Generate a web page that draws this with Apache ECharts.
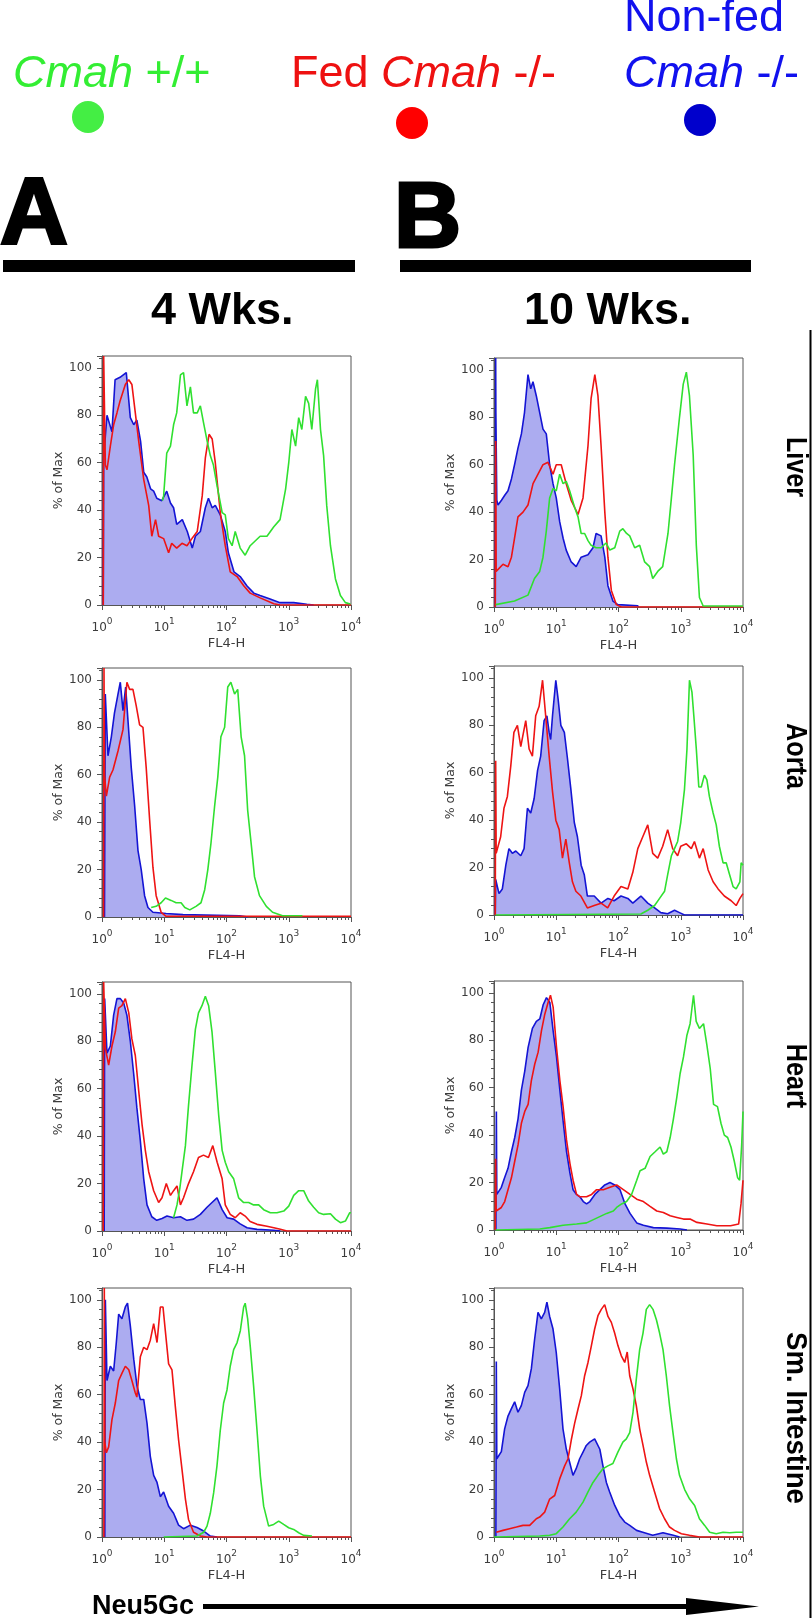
<!DOCTYPE html>
<html><head><meta charset="utf-8">
<script src="https://cdn.jsdelivr.net/npm/echarts@6/dist/echarts.min.js"></script>
<style>html,body{margin:0;padding:0;background:#fff}#c{width:812px;height:1618px}</style>
</head><body><div id="c"></div><script>
// ---------- labels ----------
const tissues = ['Liver', 'Aorta', 'Heart', 'Sm. Intestine'];
const ages = ['4 Wks.', '10 Wks.'];
const panelLetters = ['A', 'B'];
const yTickLabels = [0, 20, 40, 60, 80, 100];
const xDecadeExponents = [0, 1, 2, 3, 4];
const minorTickValues = [2,3,4,5,6,7,8,9,20,30,40,50,60,70,80,90,200,300,400,500,600,700,800,900,2000,3000,4000,5000,6000,7000,8000,9000];

// ---------- data: [log10(FL4-H), % of Max] ----------
// Liver, 4 Wks.
const liver4Non = [[0.02,0],[0.027,62],[0.08,80],[0.16,73],[0.21,95],[0.29,96],[0.39,98],[0.455,79],[0.51,76],[0.56,78],[0.62,69],[0.67,56],[0.72,54],[0.78,49],[0.83,48],[0.88,45],[0.96,44],[1.04,48],[1.10,43],[1.15,41],[1.20,34],[1.29,36],[1.37,31],[1.45,24],[1.50,29],[1.58,31],[1.66,41],[1.71,45],[1.77,41],[1.82,42],[1.90,38],[1.98,31],[2.03,22],[2.12,14],[2.22,12],[2.33,8],[2.44,5],[2.54,4],[2.70,2.5],[2.86,1],[3.08,1],[3.29,0.3],[3.40,0]];
const liver4Fed = [[0.02,0],[0.027,105],[0.054,59],[0.08,57],[0.134,67],[0.187,76],[0.24,81],[0.29,86],[0.375,93],[0.43,95],[0.48,93],[0.535,81],[0.59,69],[0.67,53],[0.75,42],[0.80,29],[0.86,36],[0.91,29],[0.99,28],[1.07,22],[1.12,26],[1.20,24],[1.285,26],[1.365,25],[1.445,28],[1.53,31],[1.61,46],[1.66,62],[1.72,72],[1.77,70],[1.82,60],[1.90,39],[1.98,25],[2.06,14],[2.17,12],[2.28,8],[2.38,5],[2.54,3],[2.76,0.5],[2.86,0],[4.0,0]];
const liver4Wt = [[0.97,44],[0.99,46],[1.04,64],[1.10,67],[1.15,76],[1.20,81],[1.26,97],[1.31,98],[1.365,84],[1.42,92],[1.47,81],[1.53,81],[1.58,84],[1.63,77],[1.69,69],[1.74,63],[1.79,59],[1.85,50],[1.93,39],[1.98,38],[2.03,28],[2.09,25],[2.14,31],[2.22,24],[2.30,21],[2.38,25],[2.46,27],[2.54,29],[2.65,29],[2.76,33],[2.86,36],[2.95,49],[3.0,60],[3.05,74],[3.11,67],[3.16,79],[3.21,74],[3.27,88],[3.32,85],[3.37,74],[3.43,91],[3.46,95],[3.51,74],[3.56,63],[3.61,42],[3.67,25],[3.75,11],[3.83,4],[3.91,1],[3.99,0.4]];
// Liver, 10 Wks.
const liver10Non = [[0.02,0],[0.027,105],[0.03,82],[0.045,45],[0.064,43],[0.12,45],[0.17,47],[0.225,49],[0.28,54],[0.33,60],[0.385,67],[0.44,73],[0.49,82],[0.546,98],[0.59,92],[0.626,95],[0.68,89],[0.734,82],[0.787,75],[0.84,73],[0.894,60],[0.948,52],[1.0,46],[1.055,36],[1.11,29],[1.16,24],[1.24,19],[1.32,17],[1.40,21],[1.51,22],[1.59,25],[1.64,31],[1.72,30],[1.78,21],[1.83,9],[1.91,2.5],[1.99,1],[2.31,0.5],[2.32,0]];
const liver10Fed = [[0.02,0],[0.027,70],[0.035,15],[0.064,15],[0.145,18],[0.225,17],[0.28,21],[0.33,29],[0.385,38],[0.466,40],[0.546,43],[0.627,52],[0.707,56],[0.787,60],[0.867,61],[0.948,56],[1.0,60],[1.08,60],[1.16,52],[1.24,45],[1.35,39],[1.43,46],[1.51,68],[1.56,88],[1.62,98],[1.67,89],[1.72,68],[1.78,40],[1.83,21],[1.885,7],[1.965,1],[2.045,0],[4.0,0]];
const liver10Wt = [[0.027,1],[0.33,2.5],[0.546,5],[0.65,12],[0.734,15],[0.787,21],[0.84,32],[0.894,46],[0.948,50],[1.0,49],[1.055,56],[1.11,52],[1.16,53],[1.215,49],[1.296,42],[1.35,38],[1.40,31],[1.456,31],[1.51,28],[1.56,26],[1.64,25],[1.72,25],[1.80,27],[1.86,24],[1.94,25],[2.02,32],[2.07,33],[2.13,31],[2.18,30],[2.26,25],[2.34,26],[2.42,19],[2.50,17],[2.55,12],[2.63,15],[2.71,17],[2.795,31],[2.85,46],[2.90,60],[2.98,80],[3.04,94],[3.09,99],[3.14,89],[3.20,64],[3.25,26],[3.30,4],[3.36,0.4],[4.0,0.4]];
// Aorta, 4 Wks.
const aorta4Non = [[0.04,0],[0.053,94],[0.096,68],[0.15,76],[0.20,86],[0.257,94],[0.294,99],[0.337,87],[0.38,97],[0.417,83],[0.47,63],[0.524,47],[0.578,28],[0.63,20],[0.684,9],[0.738,4],[0.818,2],[1.03,1.5],[1.30,1],[2.21,0.5],[2.34,0]];
const aorta4Fed = [[0.025,0],[0.032,105],[0.04,60],[0.07,51],[0.123,59],[0.176,62],[0.257,70],[0.337,79],[0.40,99],[0.444,96],[0.497,96],[0.55,89],[0.604,81],[0.658,80],[0.71,63],[0.765,41],[0.818,21],[0.87,9],[0.95,2],[1.03,0.3],[4.0,0.3]];
const aorta4Wt = [[0.79,4],[0.87,4.5],[0.95,6],[1.02,8],[1.11,7],[1.19,6],[1.27,6],[1.33,4],[1.41,3],[1.51,4.5],[1.59,6],[1.65,11.5],[1.70,20],[1.75,31],[1.81,47],[1.86,59],[1.91,76],[1.97,80],[2.02,97],[2.07,99],[2.13,94],[2.18,96],[2.235,76],[2.29,68],[2.34,45],[2.40,30],[2.45,17],[2.53,9],[2.64,4.5],[2.74,2],[2.90,0.5],[3.22,0.5]];
// Aorta, 10 Wks.
const aorta10Non = [[0.02,0],[0.027,15],[0.08,9],[0.134,11],[0.19,21],[0.24,28],[0.295,26],[0.35,27],[0.43,25],[0.483,28],[0.537,45],[0.59,43],[0.644,49],[0.70,61],[0.75,67],[0.805,82],[0.85,84],[0.886,77],[0.91,74],[0.94,84],[0.993,99],[1.03,91],[1.074,80],[1.13,77],[1.18,66],[1.235,53],[1.29,39],[1.34,33],[1.40,21],[1.45,17],[1.50,8],[1.61,8],[1.72,5],[1.83,7],[1.93,6],[2.04,8],[2.15,7],[2.23,5],[2.36,8],[2.47,5],[2.58,3],[2.68,1],[2.79,0.5],[2.90,2],[2.98,1],[3.06,0],[4.0,0]];
const aorta10Fed = [[0.02,0],[0.027,65],[0.035,26],[0.054,26],[0.107,33],[0.16,45],[0.215,50],[0.27,63],[0.32,77],[0.376,80],[0.43,71],[0.51,82],[0.564,70],[0.617,67],[0.67,84],[0.725,88],[0.78,99],[0.83,84],[0.886,67],[0.94,52],[0.993,40],[1.047,36],[1.10,24],[1.154,32],[1.21,22],[1.26,14],[1.315,10],[1.396,8],[1.50,3],[1.61,4],[1.72,5],[1.826,3],[1.93,8],[2.04,12],[2.15,11],[2.23,18],[2.31,28],[2.39,33],[2.47,38],[2.55,26],[2.63,24],[2.71,29],[2.79,36],[2.87,28],[2.95,25],[3.0,29],[3.09,30],[3.17,28],[3.22,31],[3.30,24],[3.36,28],[3.44,19],[3.52,14],[3.60,11],[3.70,8],[3.81,6],[3.89,4],[3.95,7],[4.0,9]];
const aorta10Wt = [[0.027,0],[2.36,0.4],[2.47,2],[2.58,4],[2.66,7],[2.74,10],[2.79,17],[2.85,25],[2.90,28],[2.95,31],[3.0,39],[3.06,53],[3.10,70],[3.14,99],[3.18,94],[3.21,84],[3.25,70],[3.29,54],[3.33,54],[3.38,59],[3.42,57],[3.46,50],[3.52,43],[3.57,38],[3.62,29],[3.68,22],[3.73,22],[3.785,17],[3.84,12],[3.89,11],[3.95,14],[3.97,22],[4.0,21]];
// Heart, 4 Wks.
const heart4Non = [[0.035,0],[0.043,98],[0.08,75],[0.134,78],[0.187,91],[0.24,98],[0.295,98],[0.35,96],[0.40,91],[0.455,80],[0.51,66],[0.56,52],[0.616,38],[0.67,22],[0.723,11],[0.80,6],[0.88,4.5],[0.964,5.3],[1.044,6.3],[1.15,5.6],[1.26,6],[1.365,4.5],[1.47,5],[1.58,7],[1.687,10],[1.767,12],[1.847,14],[1.93,9],[2.01,5.6],[2.115,5],[2.22,3],[2.33,1.4],[2.49,0.7],[2.76,0.3],[2.865,0]];
const heart4Fed = [[0.02,0],[0.027,105],[0.054,77],[0.107,70],[0.16,78],[0.214,84],[0.268,94],[0.32,95],[0.375,98],[0.43,92],[0.48,81],[0.535,74],[0.59,59],[0.643,45],[0.696,34],[0.75,25],[0.83,17],[0.91,12],[0.964,14],[1.033,20],[1.10,15],[1.15,17],[1.205,19],[1.26,11],[1.31,14],[1.39,20],[1.47,25],[1.55,31],[1.63,32],[1.71,31],[1.78,36],[1.85,29],[1.93,22],[1.98,11],[2.06,7],[2.14,5.6],[2.22,7.7],[2.30,6.3],[2.38,4],[2.49,2.8],[2.65,2],[2.76,1.4],[2.865,0.7],[2.97,0],[4.0,0]];
const heart4Wt = [[1.15,5.6],[1.205,11],[1.25,18],[1.285,25],[1.34,36],[1.39,53],[1.446,70],[1.50,85],[1.55,92],[1.606,95],[1.66,99],[1.713,95],[1.767,84],[1.82,67],[1.874,49],[1.93,34],[1.98,29],[2.035,25],[2.115,22],[2.195,14],[2.276,12],[2.356,12],[2.436,11],[2.517,11],[2.597,9],[2.704,7.7],[2.81,7.7],[2.92,8.4],[3.0,10.5],[3.08,15],[3.16,17],[3.24,17],[3.32,12.6],[3.40,10],[3.48,7.7],[3.56,7],[3.67,7.3],[3.75,5],[3.83,3.5],[3.91,4.2],[3.98,7.7],[4.0,7.7]];
// Heart, 10 Wks.
const heart10Non = [[0.03,0],[0.038,50],[0.045,15],[0.064,15],[0.118,18],[0.17,22],[0.225,26],[0.28,33],[0.333,39],[0.387,47],[0.44,59],[0.494,67],[0.548,77],[0.617,85],[0.68,88],[0.736,89],[0.79,95],[0.843,98],[0.897,96],[0.95,84],[1.004,73],[1.058,59],[1.11,46],[1.165,33],[1.22,24],[1.27,17],[1.326,15],[1.38,14],[1.434,12],[1.487,11],[1.54,12],[1.62,15],[1.70,17],[1.78,19],[1.863,20],[1.94,19],[2.024,17],[2.105,11],[2.185,7],[2.293,3],[2.40,2],[2.56,1],[2.776,0.8],[2.99,0.4],[3.10,0]];
const heart10Fed = [[0.02,0],[0.027,30],[0.035,8],[0.064,8],[0.118,9.5],[0.172,12],[0.225,17],[0.28,22],[0.333,29],[0.387,36],[0.44,45],[0.494,50],[0.548,53],[0.60,63],[0.655,70],[0.709,75],[0.762,84],[0.816,91],[0.87,96],[0.907,99],[0.95,94],[1.004,77],[1.058,63],[1.11,52],[1.165,38],[1.22,28],[1.27,21],[1.326,15],[1.38,14],[1.487,14],[1.568,15],[1.648,17],[1.756,17],[1.863,18],[1.97,19],[2.078,17],[2.185,15],[2.293,13],[2.40,12],[2.507,10],[2.615,8],[2.72,7.4],[2.83,6],[2.937,5.3],[3.044,4.6],[3.15,4.6],[3.26,3.2],[3.42,2.5],[3.58,1.8],[3.80,1.8],[3.93,2.5],[3.968,11],[4.0,21]];
const heart10Wt = [[0.027,0],[0.736,0.4],[0.897,1],[1.11,2],[1.326,2.5],[1.487,3],[1.648,5],[1.81,7],[1.917,8],[1.97,9.5],[2.05,11],[2.13,12],[2.21,15],[2.293,21],[2.346,25],[2.427,26],[2.507,31],[2.588,33],[2.668,35],[2.72,32],[2.776,33],[2.83,39],[2.883,47],[2.937,56],[2.99,66],[3.044,73],[3.098,82],[3.15,87],[3.205,99],[3.248,88],[3.30,85],[3.366,87],[3.42,78],[3.474,68],[3.527,53],[3.59,52],[3.646,45],[3.70,40],[3.753,39],[3.807,35],[3.86,29],[3.914,22],[3.946,21],[3.979,36],[4.0,50]];
// Sm. Intestine, 4 Wks.
const intestine4Non = [[0.045,0],[0.054,100],[0.08,66],[0.134,72],[0.187,70],[0.23,82],[0.268,94],[0.32,92],[0.375,97],[0.41,98.6],[0.455,89],[0.51,75],[0.56,64],[0.616,58],[0.67,58],[0.723,48],[0.776,34],[0.83,26],[0.884,23],[0.937,17],[0.99,19],[1.07,13],[1.15,10],[1.23,5],[1.31,3.5],[1.42,5],[1.526,4],[1.633,2.5],[1.74,0.4],[1.847,0]];
const intestine4Fed = [[0.03,0],[0.037,105],[0.045,40],[0.07,35.5],[0.107,38],[0.16,49.5],[0.214,56.5],[0.268,66],[0.32,69],[0.375,72],[0.43,70.5],[0.48,66],[0.535,60.7],[0.56,59],[0.616,76],[0.67,80],[0.723,79],[0.776,83],[0.83,90],[0.884,82],[0.937,97],[0.98,97],[1.017,87],[1.07,73],[1.124,70.5],[1.178,55],[1.23,41],[1.285,28.5],[1.34,16],[1.39,7.4],[1.47,2],[1.58,0.4],[1.687,0],[4.0,0]];
const intestine4Wt = [[0.99,0],[1.526,0.4],[1.633,2],[1.687,4.6],[1.74,10],[1.794,18.7],[1.847,30],[1.90,45],[1.954,56.5],[2.008,62],[2.06,72],[2.115,79],[2.17,82],[2.222,87],[2.276,97],[2.30,98.6],[2.34,92],[2.383,80],[2.436,63.5],[2.49,45],[2.544,25.7],[2.597,13],[2.677,4.6],[2.758,5.3],[2.838,6.7],[2.918,5.3],[2.999,3.9],[3.079,3.2],[3.16,1.8],[3.24,0.7],[3.373,0.4]];
// Sm. Intestine, 10 Wks.
const intestine10Non = [[0.03,0],[0.037,74],[0.045,33],[0.064,33],[0.118,36],[0.171,45.6],[0.225,51],[0.278,54],[0.332,57],[0.385,52.6],[0.439,55.4],[0.493,61],[0.546,63.8],[0.60,71],[0.653,83.5],[0.707,94.7],[0.76,92],[0.814,94.7],[0.85,99],[0.894,93],[0.948,87.7],[1.0,77.8],[1.055,62.4],[1.108,45.6],[1.162,37],[1.215,31.5],[1.269,26],[1.32,28.8],[1.376,33],[1.43,35.8],[1.483,38.6],[1.537,40],[1.617,41.4],[1.70,37],[1.75,30],[1.805,23],[1.858,19],[1.94,13.3],[2.02,9],[2.10,6.3],[2.18,4.9],[2.29,2.8],[2.39,2],[2.55,0.7],[2.715,1.8],[2.88,0.7],[2.98,0]];
const intestine10Fed = [[0.037,2],[0.145,2.8],[0.25,3.5],[0.36,4.2],[0.466,4.9],[0.573,4.9],[0.68,7.7],[0.734,8.4],[0.814,10.5],[0.894,16],[0.975,17.5],[1.055,24.5],[1.135,30],[1.189,33],[1.242,41],[1.296,48],[1.35,54],[1.403,59.6],[1.456,68],[1.51,73.6],[1.564,80.6],[1.617,87.7],[1.67,93.3],[1.724,96],[1.778,98],[1.831,93],[1.885,90.5],[1.938,86],[1.992,80.6],[2.045,76.4],[2.10,73.6],[2.14,78],[2.18,68],[2.233,62.4],[2.286,55.4],[2.34,45.6],[2.394,38.6],[2.447,31.6],[2.50,26],[2.58,19],[2.66,12],[2.74,7.7],[2.82,4.2],[2.90,2.8],[3.01,1.4],[3.14,0.7],[3.30,0],[4.0,0]];
const intestine10Wt = [[0.0,0],[0.734,0.4],[0.894,0.7],[1.0,1.4],[1.108,4.2],[1.215,7.7],[1.32,10.5],[1.43,14.7],[1.51,19],[1.59,23],[1.67,26],[1.75,28.8],[1.83,30],[1.91,31],[1.99,35.8],[2.07,40],[2.126,41.4],[2.18,44],[2.233,52.6],[2.286,66.6],[2.34,79],[2.394,86],[2.447,96],[2.50,98],[2.554,96],[2.61,91.5],[2.66,86],[2.715,79],[2.768,68],[2.82,55.4],[2.875,44],[2.93,33],[2.98,26],[3.063,20],[3.143,16],[3.223,13.3],[3.30,7.7],[3.384,4.9],[3.465,2],[3.57,1.4],[3.68,2],[3.786,1.8],[3.89,2],[4.0,2]];

// panels in reading order: [row][col] -> {wt, fed, non}
const panelData = [
  [{wt: liver4Wt, fed: liver4Fed, non: liver4Non}, {wt: liver10Wt, fed: liver10Fed, non: liver10Non}],
  [{wt: aorta4Wt, fed: aorta4Fed, non: aorta4Non}, {wt: aorta10Wt, fed: aorta10Fed, non: aorta10Non}],
  [{wt: heart4Wt, fed: heart4Fed, non: heart4Non}, {wt: heart10Wt, fed: heart10Fed, non: heart10Non}],
  [{wt: intestine4Wt, fed: intestine4Fed, non: intestine4Non}, {wt: intestine10Wt, fed: intestine10Fed, non: intestine10Non}]
];

// ---------- layout & style ----------
const COL_LEFT = [102, 494];
const ROW_TOP = [[356, 358], [668, 666], [982, 981], [1288, 1288]];
const PLOT_W = 249, PLOT_H = 249;
const TISSUE_Y = [467, 756, 1076, 1418];
const C_WT = '#30e030', C_FED = '#ee1414', C_NON = '#1414d4', C_FILL = '#acacf0';
const AX = '#555', TXT = '#3c3c3c';
const SANS = '"Liberation Sans", Arial, Helvetica, sans-serif';
const TICKF = 'DejaVu Sans';

const toXY = arr => arr.map(p => [Math.pow(10, p[0]), p[1]]);

const grids = [], xAxes = [], yAxes = [], series = [];
let idx = 0;
for (let r = 0; r < 4; r++) {
  for (let c = 0; c < 2; c++) {
    const d = panelData[r][c];
    grids.push({left: COL_LEFT[c], top: ROW_TOP[r][c], width: PLOT_W, height: PLOT_H,
      show: true, borderColor: AX, borderWidth: 1, backgroundColor: 'transparent', containLabel: false});
    xAxes.push({type: 'log', logBase: 10, gridIndex: idx, min: 1, max: 10000,
      name: 'FL4-H', nameLocation: 'middle', nameGap: 32,
      nameTextStyle: {fontFamily: TICKF, fontSize: 13, color: TXT},
      axisLine: {show: true, lineStyle: {color: AX, width: 1}},
      axisTick: {show: true, length: 5, lineStyle: {color: AX}},
      minorTick: {show: false}, splitLine: {show: false},
      axisLabel: {margin: 12,
        formatter: v => '{b|10}{s|' + Math.round(Math.log10(v)) + '}',
        rich: {b: {fontFamily: TICKF, fontSize: 12, color: TXT, lineHeight: 17, verticalAlign: 'bottom'},
               s: {fontFamily: TICKF, fontSize: 9, color: TXT, lineHeight: 17, verticalAlign: 'top'}}}
    });
    yAxes.push({type: 'value', gridIndex: idx, min: 0, max: 105, interval: 20,
      name: '% of Max', nameLocation: 'middle', nameRotate: 90, nameGap: 37,
      nameTextStyle: {fontFamily: TICKF, fontSize: 12.5, color: TXT},
      axisLine: {show: true, lineStyle: {color: AX, width: 1}},
      axisTick: {show: true, length: 5, lineStyle: {color: AX}},
      minorTick: {show: true, splitNumber: 5, length: 3, lineStyle: {color: AX}},
      splitLine: {show: false},
      axisLabel: {fontFamily: TICKF, fontSize: 12, color: TXT, margin: 10, showMaxLabel: false,
        formatter: v => (yTickLabels.indexOf(v) >= 0 ? String(v) : '')}
    });
    series.push({type: 'line', xAxisIndex: idx, yAxisIndex: idx, data: toXY(d.non), symbol: 'none',
      lineStyle: {color: C_NON, width: 1.6}, areaStyle: {color: C_FILL, opacity: 1}, silent: true, animation: false});
    series.push({type: 'line', xAxisIndex: idx, yAxisIndex: idx, data: toXY(d.fed), symbol: 'none',
      lineStyle: {color: C_FED, width: 1.6}, silent: true, animation: false});
    series.push({type: 'line', xAxisIndex: idx, yAxisIndex: idx, data: toXY(d.wt), symbol: 'none',
      lineStyle: {color: C_WT, width: 1.6}, silent: true, animation: false});
    series.push({type: 'custom', xAxisIndex: idx, yAxisIndex: idx, silent: true, animation: false, clip: false,
      data: minorTickValues.map(v => [v, 0]),
      renderItem: (p, api) => {
        const pt = api.coord([api.value(0), 0]);
        const x = Math.round(pt[0]) + 0.5;
        return {type: 'line', shape: {x1: x, y1: pt[1], x2: x, y2: pt[1] + 3}, style: {stroke: AX, lineWidth: 1}};
      }});
    idx++;
  }
}

const mid = (baseline, fs) => baseline - 0.29 * fs;
const LF = 45;
const graphic = [
  // legend
  {type: 'text', x: 13, y: mid(88, LF), style: {text: '{i|Cmah} +/+', font: LF + 'px ' + SANS, fill: '#33ee33', verticalAlign: 'middle',
    rich: {i: {font: 'italic ' + LF + 'px ' + SANS, fill: '#33ee33'}}}},
  {type: 'circle', shape: {cx: 88, cy: 117, r: 16}, style: {fill: '#44ee44'}},
  {type: 'text', x: 291, y: mid(88, LF), style: {text: 'Fed {i|Cmah} -/-', font: LF + 'px ' + SANS, fill: '#ee1111', verticalAlign: 'middle',
    rich: {i: {font: 'italic ' + LF + 'px ' + SANS, fill: '#ee1111'}}}},
  {type: 'circle', shape: {cx: 412, cy: 123, r: 16}, style: {fill: '#ff0000'}},
  {type: 'text', x: 624, y: mid(32, LF), style: {text: 'Non-fed', font: LF + 'px ' + SANS, fill: '#1111ee', verticalAlign: 'middle'}},
  {type: 'text', x: 624, y: mid(88, LF), style: {text: '{i|Cmah} -/-', font: LF + 'px ' + SANS, fill: '#1111ee', verticalAlign: 'middle',
    rich: {i: {font: 'italic ' + LF + 'px ' + SANS, fill: '#1111ee'}}}},
  {type: 'circle', shape: {cx: 700, cy: 120, r: 16}, style: {fill: '#0000cc'}},
  // panel letters and bars
  {type: 'text', x: 0, y: mid(245, 94), style: {text: panelLetters[0], font: 'bold 94px ' + SANS, fill: '#000', stroke: '#000', lineWidth: 3, verticalAlign: 'middle'}},
  {type: 'text', x: 394, y: mid(248, 93), style: {text: panelLetters[1], font: 'bold 93px ' + SANS, fill: '#000', stroke: '#000', lineWidth: 3, verticalAlign: 'middle'}},
  {type: 'rect', shape: {x: 3, y: 260, width: 352, height: 12}, style: {fill: '#000'}},
  {type: 'rect', shape: {x: 400, y: 260, width: 351, height: 12}, style: {fill: '#000'}},
  {type: 'text', x: 151, y: mid(325, 45), style: {text: ages[0], font: 'bold 45px ' + SANS, fill: '#000', verticalAlign: 'middle'}},
  {type: 'text', x: 524, y: mid(325, 45), style: {text: ages[1], font: 'bold 45px ' + SANS, fill: '#000', verticalAlign: 'middle'}},
  // bottom arrow
  {type: 'text', x: 92, y: mid(1614, 27), style: {text: 'Neu5Gc', font: 'bold 27px ' + SANS, fill: '#000', verticalAlign: 'middle'}},
  {type: 'rect', shape: {x: 203, y: 1604, width: 490, height: 5}, style: {fill: '#000'}},
  {type: 'polygon', shape: {points: [[686, 1598], [759, 1606.5], [686, 1615]]}, style: {fill: '#000'}},
  // right border
  {type: 'line', shape: {x1: 810.5, y1: 330, x2: 810.5, y2: 1618}, style: {stroke: '#000', lineWidth: 2}}
];
tissues.forEach((t, i) => {
  graphic.push({type: 'text', x: 795, y: TISSUE_Y[i], rotation: -Math.PI / 2, scaleX: i === 3 ? 0.92 : 0.84,
    style: {text: t, font: 'bold 30px ' + SANS, fill: '#000', align: 'center', verticalAlign: 'middle'}});
});

const chart = echarts.init(document.getElementById('c'), null, {renderer: 'canvas'});
chart.setOption({
  animation: false,
  backgroundColor: '#fff',
  grid: grids, xAxis: xAxes, yAxis: yAxes, series: series,
  graphic: graphic
});
</script></body></html>
